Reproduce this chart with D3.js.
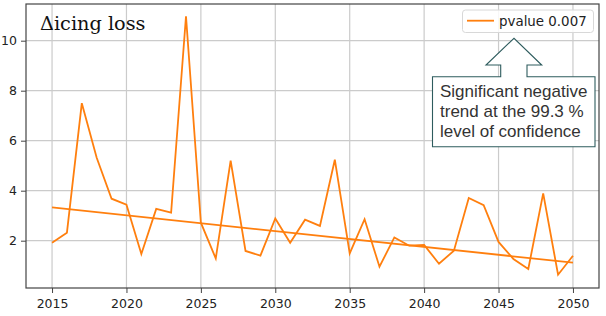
<!DOCTYPE html>
<html><head><meta charset="utf-8">
<script src="https://cdn.jsdelivr.net/npm/d3@7"></script>
<style>html,body{margin:0;padding:0;background:#fff;}svg{display:block;}</style>
</head><body>
<svg id="chart" width="606" height="316"></svg>
<script>
const years = d3.range(2015, 2051);
const icingLoss = [1.92,2.32,7.50,5.32,3.68,3.44,1.47,3.27,3.12,10.98,
  2.72,1.29,5.20,1.59,1.40,2.89,1.92,2.84,2.59,5.24,
  1.49,2.86,0.96,2.13,1.80,1.83,1.08,1.60,3.71,3.42,
  1.95,1.27,0.87,3.89,0.64,1.40];
const trendYears = [2015, 2050];
const trendValues = [3.33, 1.12];
const xTicks = [2015,2020,2025,2030,2035,2040,2045,2050];
const yTicks = [2,4,6,8,10];
const title = "\u0394icing loss";
const legendLabel = "pvalue 0.007";
const noteLines = ["Significant negative","trend at the 99.3 %","level of confidence"];

const color = "#ff7f0e";
const svg = d3.select("#chart");
const L = 26, R = 599, T = 4, B = 288;
const x = d3.scaleLinear().domain([2013.25, 2051.75]).range([L, R]);
const y = d3.scaleLinear().domain([0.108, 11.468]).range([B, T]);

// grid
const g = svg.append("g");
g.selectAll(".gx").data(xTicks).enter().append("line")
  .attr("x1", d => x(d)).attr("x2", d => x(d)).attr("y1", T).attr("y2", B)
  .attr("stroke", "#cbcbcb").attr("stroke-width", 1.2);
g.selectAll(".gy").data(yTicks).enter().append("line")
  .attr("y1", d => y(d)).attr("y2", d => y(d)).attr("x1", L).attr("x2", R)
  .attr("stroke", "#cbcbcb").attr("stroke-width", 1.2);

// axes
const xAxis = d3.axisBottom(x).tickValues(xTicks).tickFormat(d3.format("d")).tickSize(5).tickPadding(6);
const yAxis = d3.axisLeft(y).tickValues(yTicks).tickSize(5).tickPadding(4);
const gx = svg.append("g").attr("transform", `translate(0,${B})`).call(xAxis);
const gy = svg.append("g").attr("transform", `translate(${L},0)`).call(yAxis);
[gx, gy].forEach(a => {
  a.select(".domain").remove();
  a.selectAll("line").attr("stroke", "#444").attr("stroke-width", 1);
  a.selectAll("text").attr("fill", "#222").style("font-family", "DejaVu Sans").style("font-size", "12.5px");
});

// lines
const line = d3.line().x((d, i) => x(years[i])).y(d => y(d));
svg.append("path").datum(icingLoss).attr("d", line)
  .attr("fill", "none").attr("stroke", color).attr("stroke-width", 1.8).attr("stroke-linejoin", "miter");
const tline = d3.line().x((d, i) => x(trendYears[i])).y(d => y(d));
svg.append("path").datum(trendValues).attr("d", tline)
  .attr("fill", "none").attr("stroke", color).attr("stroke-width", 1.8);

// frame
svg.append("rect").attr("x", L).attr("y", T).attr("width", R - L).attr("height", B - T)
  .attr("fill", "none").attr("stroke", "#444").attr("stroke-width", 1.2);

// title
svg.append("text").attr("x", 40).attr("y", 30).text(title)
  .style("font-family", "DejaVu Serif").style("font-size", "19.3px").attr("fill", "#111");

// legend
svg.append("rect").attr("x", 462.5).attr("y", 10).attr("width", 131).attr("height", 22.5)
  .attr("rx", 3).attr("fill", "#fff").attr("fill-opacity", 0.85).attr("stroke", "#d8d8d8");
svg.append("line").attr("x1", 467).attr("x2", 494).attr("y1", 20.7).attr("y2", 20.7)
  .attr("stroke", color).attr("stroke-width", 1.8);
svg.append("text").attr("x", 499).attr("y", 25.5).text(legendLabel)
  .style("font-family", "DejaVu Sans").style("font-size", "13.4px").attr("fill", "#222");

// annotation arrow + box
const ax = 514, bx0 = 432.5, bx1 = 595, by0 = 76.7, by1 = 146.7;
const pts = [[bx0, by0], [500.7, by0], [500.7, 65], [486, 65], [ax, 38.3], [541.7, 65], [527, 65], [527, by0], [bx1, by0], [bx1, by1], [bx0, by1]];
svg.append("path").attr("d", d3.line()(pts) + "Z")
  .attr("fill", "#fff").attr("stroke", "#2e5c5e").attr("stroke-width", 1.1);
svg.append("g").selectAll("text").data(noteLines).enter().append("text")
  .attr("x", 440).attr("y", (d, i) => 96.7 + i * 20.3).text(d => d)
  .style("font-family", "Liberation Sans").style("font-size", "17px").attr("fill", "#333");
</script>
</body></html>
